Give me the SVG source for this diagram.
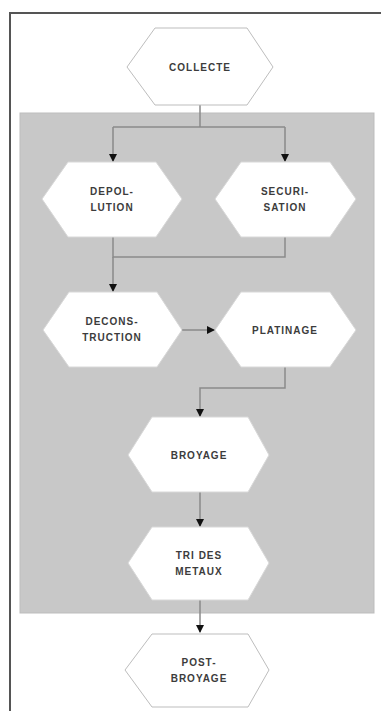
<svg xmlns="http://www.w3.org/2000/svg" width="381" height="711" viewBox="0 0 381 711">
<style>
.hex{fill:#fff;stroke:#bdbdbd;stroke-width:1}
.hexin{fill:#fff;stroke:#d8d8d8;stroke-width:1}
.lbl{font-family:"Liberation Sans",Arial,sans-serif;font-size:10px;font-weight:bold;fill:#3c3c3c;text-anchor:middle;letter-spacing:1px}
.con{fill:none;stroke:#8a8a8a;stroke-width:1.5}
</style>
<defs>
<marker id="arr" markerWidth="8" markerHeight="8" refX="7" refY="4" orient="auto" markerUnits="userSpaceOnUse">
<path d="M0,0 L8,4 L0,8 Z" fill="#111"/>
</marker>
</defs>
<rect x="0" y="0" width="381" height="711" fill="#fff"/>
<path d="M10,711 V13 H381" fill="none" stroke="#555" stroke-width="2"/>
<rect x="20" y="113" width="354" height="500" fill="#c8c8c8" stroke="#bdbdbd" stroke-width="1"/>
<g id="connectors">
<path class="con" d="M200,105 V127 M113,127 H285"/>
<path class="con" d="M113,127 V161" marker-end="url(#arr)"/>
<path class="con" d="M285,127 V161" marker-end="url(#arr)"/>
<path class="con" d="M113,237 V257 H285 V237"/>
<path class="con" d="M113,257 V291" marker-end="url(#arr)"/>
<path class="con" d="M182,330 H214" marker-end="url(#arr)"/>
<path class="con" d="M285,367 V388 H200 V416" marker-end="url(#arr)"/>
<path class="con" d="M200,492 V526" marker-end="url(#arr)"/>
<path class="con" d="M200,600 V632" marker-end="url(#arr)"/>
</g>
<g id="collecte">
<polygon class="hex" points="127,67 155,28 247,28 273,67 247,105 155,105"/>
<text class="lbl" x="200" y="71">COLLECTE</text>
</g>
<g id="depollution">
<polygon class="hexin" points="42,199 68,162 156,162 182,199 156,237 68,237"/>
<text class="lbl" x="112" y="195">DEPOL-</text>
<text class="lbl" x="112" y="211">LUTION</text>
</g>
<g id="securisation">
<polygon class="hexin" points="215,199 241,162 330,162 356,199 330,237 241,237"/>
<text class="lbl" x="285" y="195">SECURI-</text>
<text class="lbl" x="285" y="211">SATION</text>
</g>
<g id="deconstruction">
<polygon class="hexin" points="43,330 69,292 157,292 182,330 157,367 69,367"/>
<text class="lbl" x="112" y="325">DECONS-</text>
<text class="lbl" x="112" y="341">TRUCTION</text>
</g>
<g id="platinage">
<polygon class="hexin" points="215,330 241,292 330,292 356,330 330,367 241,367"/>
<text class="lbl" x="285" y="334">PLATINAGE</text>
</g>
<g id="broyage">
<polygon class="hexin" points="128,455 152,417 248,417 269,455 248,492 152,492"/>
<text class="lbl" x="199" y="459">BROYAGE</text>
</g>
<g id="tri">
<polygon class="hexin" points="128,563 152,527 248,527 269,563 248,600 152,600"/>
<text class="lbl" x="199" y="559">TRI DES</text>
<text class="lbl" x="199" y="575">METAUX</text>
</g>
<g id="postbroyage">
<polygon class="hex" points="125,670 152,634 248,634 269,670 248,707 152,707"/>
<text class="lbl" x="199" y="666">POST-</text>
<text class="lbl" x="199" y="682">BROYAGE</text>
</g>
</svg>
